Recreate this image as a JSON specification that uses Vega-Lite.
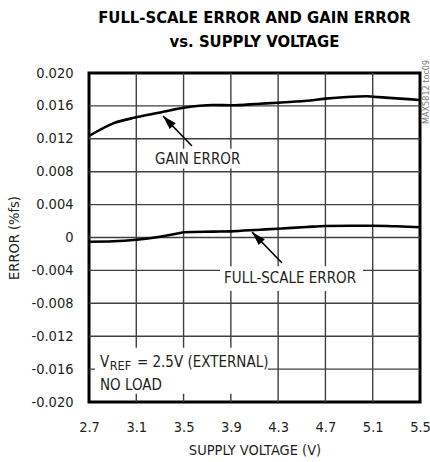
{
  "$schema": "https://vega.github.io/schema/vega-lite/v6.json",
  "width": 331,
  "height": 329,
  "autosize": {"type": "none"},
  "padding": {"left": 89, "top": 73, "right": 10, "bottom": 60},
  "background": "white",
  "title": {
    "text": ["FULL-SCALE ERROR AND GAIN ERROR", "vs. SUPPLY VOLTAGE"],
    "font": "DejaVu Sans Condensed",
    "fontSize": 16.5,
    "fontWeight": "bold",
    "color": "#000000",
    "anchor": "middle",
    "frame": "group",
    "lineHeight": 24,
    "offset": 9
  },
  "config": {
    "view": {"stroke": "#000000", "strokeWidth": 3},
    "axis": {
      "labelFont": "DejaVu Sans Condensed",
      "titleFont": "DejaVu Sans Condensed",
      "labelColor": "#231f20",
      "titleColor": "#231f20",
      "labelFontSize": 14.5,
      "titleFontSize": 14.5,
      "titleFontWeight": "normal",
      "domain": false,
      "ticks": false,
      "grid": false,
      "labelOverlap": false,
      "labelFlush": false,
      "labelBound": false
    }
  },
  "datasets": {
    "gridx": [
      {"gx": 3.1, "lo": -0.02, "hi": 0.02}, {"gx": 3.5, "lo": -0.02, "hi": 0.02},
      {"gx": 3.9, "lo": -0.02, "hi": 0.02}, {"gx": 4.3, "lo": -0.02, "hi": 0.02},
      {"gx": 4.7, "lo": -0.02, "hi": 0.02}, {"gx": 5.1, "lo": -0.02, "hi": 0.02}
    ],
    "gridy": [
      {"gy": -0.016, "lo": 2.7, "hi": 5.5}, {"gy": -0.012, "lo": 2.7, "hi": 5.5},
      {"gy": -0.008, "lo": 2.7, "hi": 5.5}, {"gy": -0.004, "lo": 2.7, "hi": 5.5},
      {"gy": 0, "lo": 2.7, "hi": 5.5}, {"gy": 0.004, "lo": 2.7, "hi": 5.5},
      {"gy": 0.008, "lo": 2.7, "hi": 5.5}, {"gy": 0.012, "lo": 2.7, "hi": 5.5},
      {"gy": 0.016, "lo": 2.7, "hi": 5.5}
    ],
    "curves": [
      {"v": 2.7, "err": 0.01234, "series": "gain"},
      {"v": 2.905, "err": 0.01388, "series": "gain"},
      {"v": 3.1, "err": 0.01461, "series": "gain"},
      {"v": 3.329, "err": 0.01529, "series": "gain"},
      {"v": 3.5, "err": 0.01578, "series": "gain"},
      {"v": 3.752, "err": 0.01611, "series": "gain"},
      {"v": 3.9, "err": 0.01607, "series": "gain"},
      {"v": 4.146, "err": 0.01627, "series": "gain"},
      {"v": 4.3, "err": 0.01639, "series": "gain"},
      {"v": 4.54, "err": 0.01663, "series": "gain"},
      {"v": 4.7, "err": 0.01688, "series": "gain"},
      {"v": 4.88, "err": 0.01708, "series": "gain"},
      {"v": 5.05, "err": 0.01717, "series": "gain"},
      {"v": 5.1, "err": 0.01712, "series": "gain"},
      {"v": 5.3, "err": 0.01692, "series": "gain"},
      {"v": 5.5, "err": 0.01672, "series": "gain"},
      {"v": 2.7, "err": -0.00051, "series": "fs"},
      {"v": 2.905, "err": -0.00046, "series": "fs"},
      {"v": 3.1, "err": -0.00027, "series": "fs"},
      {"v": 3.3, "err": 0.0001, "series": "fs"},
      {"v": 3.47, "err": 0.00055, "series": "fs"},
      {"v": 3.5, "err": 0.00063, "series": "fs"},
      {"v": 3.752, "err": 0.00071, "series": "fs"},
      {"v": 3.9, "err": 0.00075, "series": "fs"},
      {"v": 4.146, "err": 0.00095, "series": "fs"},
      {"v": 4.3, "err": 0.00107, "series": "fs"},
      {"v": 4.54, "err": 0.00128, "series": "fs"},
      {"v": 4.7, "err": 0.0014, "series": "fs"},
      {"v": 4.92, "err": 0.00143, "series": "fs"},
      {"v": 5.1, "err": 0.00143, "series": "fs"},
      {"v": 5.3, "err": 0.00136, "series": "fs"},
      {"v": 5.5, "err": 0.00124, "series": "fs"}
    ],
    "boxes": [
      {"bx1": 3.21, "bx2": 4.02, "by1": 0.0108, "by2": 0.0084},
      {"bx1": 3.808, "bx2": 5.018, "by1": -0.0035, "by2": -0.0065},
      {"bx1": 2.751, "bx2": 4.214, "by1": -0.0134, "by2": -0.0190}
    ],
    "arrows": [
      {"ax": 3.571, "ay": 0.01112, "hx": 3.326, "hy": 0.01477, "angle": 316},
      {"ax": 4.333, "ay": -0.0031, "hx": 4.079, "hy": 0.00067, "angle": 316}
    ]
  },
  "layer": [
    {
      "data": {"name": "gridx"},
      "mark": {"type": "rule", "color": "#404040", "strokeWidth": 1.4},
      "encoding": {
        "x": {"field": "gx", "type": "quantitative",
          "scale": {"domain": [2.7, 5.5], "nice": false, "zero": false},
          "axis": {"title": "SUPPLY VOLTAGE (V)", "values": [2.7, 3.1, 3.5, 3.9, 4.3, 4.7, 5.1, 5.5], "tickCount": 20, "format": ".1f",
            "labelPadding": 18, "titlePadding": 10, "labelOverlap": false, "labelFlush": false}},
        "y": {"field": "lo", "type": "quantitative"},
        "y2": {"field": "hi"}
      }
    },
    {
      "data": {"name": "gridy"},
      "mark": {"type": "rule", "color": "#404040", "strokeWidth": 1.4},
      "encoding": {
        "y": {"field": "gy", "type": "quantitative",
          "scale": {"domain": [-0.02, 0.02], "nice": false, "zero": false},
          "axis": {"title": "ERROR (%fs)", "values": [-0.02, -0.016, -0.012, -0.008, -0.004, 0, 0.004, 0.008, 0.012, 0.016, 0.02], "tickCount": 20,
            "labelExpr": "datum.value == 0 ? '0' : replace(format(datum.value, '.3f'), '\u2212', '-')",
            "labelPadding": 16, "titlePadding": 9, "labelOverlap": false, "labelFlush": false}},
        "x": {"field": "lo", "type": "quantitative"},
        "x2": {"field": "hi"}
      }
    },
    {
      "data": {"name": "boxes"},
      "mark": {"type": "rect", "fill": "white"},
      "encoding": {
        "x": {"field": "bx1", "type": "quantitative"},
        "x2": {"field": "bx2"},
        "y": {"field": "by1", "type": "quantitative"},
        "y2": {"field": "by2"}
      }
    },
    {
      "data": {"name": "curves"},
      "mark": {"type": "line", "color": "#000000", "strokeWidth": 2.6, "interpolate": "monotone"},
      "encoding": {
        "x": {"field": "v", "type": "quantitative"},
        "y": {"field": "err", "type": "quantitative"},
        "detail": {"field": "series"}
      }
    },
    {
      "data": {"name": "arrows"},
      "mark": {"type": "rule", "color": "#000000", "strokeWidth": 1.6},
      "encoding": {
        "x": {"field": "ax", "type": "quantitative"},
        "y": {"field": "ay", "type": "quantitative"},
        "x2": {"field": "hx"},
        "y2": {"field": "hy"}
      }
    },
    {
      "data": {"name": "arrows"},
      "mark": {"type": "point", "shape": "M0,0L0.6,2L-0.6,2Z", "filled": true, "fill": "#000000", "opacity": 1, "size": 196, "strokeWidth": 0},
      "encoding": {
        "x": {"field": "hx", "type": "quantitative"},
        "y": {"field": "hy", "type": "quantitative"},
        "angle": {"field": "angle", "type": "quantitative", "scale": null}
      }
    },
    {
      "data": {"values": [
        {"x": 3.258, "y": 0.00954, "t": "GAIN ERROR"},
        {"x": 3.842, "y": -0.00492, "t": "FULL-SCALE ERROR"}
      ]},
      "mark": {"type": "text", "font": "DejaVu Sans Condensed", "fontSize": 15, "align": "left", "baseline": "middle", "color": "#231f20"},
      "encoding": {
        "x": {"field": "x", "type": "quantitative"},
        "y": {"field": "y", "type": "quantitative"},
        "text": {"field": "t"}
      }
    },
    {
      "data": {"values": [
        {"x": 2.793, "y": -0.01575, "t": "V"},
        {"x": 3.105, "y": -0.01575, "t": "= 2.5V (EXTERNAL)"},
        {"x": 2.793, "y": -0.01854, "t": "NO LOAD"}
      ]},
      "mark": {"type": "text", "font": "DejaVu Sans Condensed", "fontSize": 15, "align": "left", "baseline": "alphabetic", "color": "#231f20"},
      "encoding": {
        "x": {"field": "x", "type": "quantitative"},
        "y": {"field": "y", "type": "quantitative"},
        "text": {"field": "t"}
      }
    },
    {
      "data": {"values": [
        {"x": 2.876, "y": -0.01575, "t": "REF"}
      ]},
      "mark": {"type": "text", "font": "DejaVu Sans Condensed", "fontSize": 12.5, "align": "left", "baseline": "alphabetic", "dy": 3, "color": "#231f20"},
      "encoding": {
        "x": {"field": "x", "type": "quantitative"},
        "y": {"field": "y", "type": "quantitative"},
        "text": {"field": "t"}
      }
    },
    {
      "data": {"values": [
        {"x": 5.5, "y": 0.0177, "t": "MAX5812 toc09"}
      ]},
      "mark": {"type": "text", "font": "DejaVu Sans Condensed", "fontSize": 9, "angle": 270, "align": "center", "baseline": "middle", "xOffset": 6, "color": "#777777"},
      "encoding": {
        "x": {"field": "x", "type": "quantitative"},
        "y": {"field": "y", "type": "quantitative"},
        "text": {"field": "t"}
      }
    }
  ]
}
